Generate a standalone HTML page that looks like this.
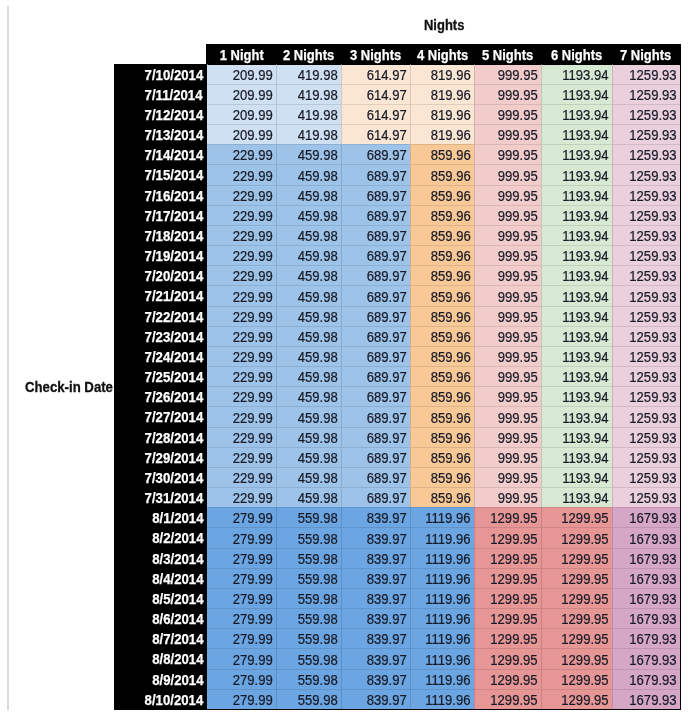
<!DOCTYPE html>
<html><head><meta charset="utf-8"><title>Nights</title>
<style>
html,body{margin:0;padding:0;background:#fff;}
body{width:688px;height:717px;position:relative;overflow:hidden;filter:blur(.45px);font-family:"Liberation Sans",sans-serif;font-size:14px;color:#111;}
div{position:absolute;box-sizing:border-box;white-space:nowrap;}
.k{background:#000;}
.c{-webkit-text-stroke:.22px #171a26;color:#171a26;text-align:right;padding-right:3px;border-top:1px solid rgba(0,0,0,.10);border-left:1px solid rgba(0,0,20,.13);}
.d{-webkit-text-stroke:.25px #fff;color:#fff;font-weight:bold;text-align:right;}
.h{-webkit-text-stroke:.25px #fff;color:#fff;font-weight:bold;text-align:center;}
.b{-webkit-text-stroke:.3px #111;font-weight:bold;color:#111;transform:scaleX(.927);transform-origin:0 50%;}
span{display:inline-block;transform:translateY(.75px) scaleX(.935);transform-origin:100% 50%;}
.h span{transform:scaleX(.927);transform-origin:50% 50%;}
.d span{transform:translateY(.6px) scaleX(.942);}
</style></head><body>
<div style="left:7px;top:6px;width:2px;height:704px;background:#dcdcdc"></div>
<div class="b" style="left:423.8px;top:17px;line-height:16px">Nights</div>
<div class="b" style="left:24.9px;top:379px;line-height:16px;transform:scaleX(.942)">Check-in Date</div>
<div class="k" style="left:206px;top:44px;width:475px;height:666px"></div>
<div class="k" style="left:114px;top:64px;width:93px;height:646px"></div>
<div class="h" style="left:207px;top:45px;width:69.4px;height:20px;line-height:20px"><span>1 Night</span></div>
<div class="h" style="left:276.4px;top:45px;width:65.0px;height:20px;line-height:20px"><span>2 Nights</span></div>
<div class="h" style="left:341.4px;top:45px;width:69.0px;height:20px;line-height:20px"><span>3 Nights</span></div>
<div class="h" style="left:410.4px;top:45px;width:64.1px;height:20px;line-height:20px"><span>4 Nights</span></div>
<div class="h" style="left:474.5px;top:45px;width:66.9px;height:20px;line-height:20px"><span>5 Nights</span></div>
<div class="h" style="left:541.4px;top:45px;width:70.2px;height:20px;line-height:20px"><span>6 Nights</span></div>
<div class="h" style="left:611.6px;top:45px;width:68.4px;height:20px;line-height:20px"><span>7 Nights</span></div>
<div class="d" style="left:114px;top:64px;width:89px;height:20px;line-height:20px"><span>7/10/2014</span></div>
<div class="c" style="left:207px;top:64px;width:69px;height:20px;line-height:19px;background:#CEE0F2;border-top-color:#000;border-left-color:transparent"><span>209.99</span></div>
<div class="c" style="left:276px;top:64px;width:65px;height:20px;line-height:19px;background:#CEE0F2;border-top-color:#000"><span>419.98</span></div>
<div class="c" style="left:341px;top:64px;width:69px;height:20px;line-height:19px;background:#FBE6D4;border-top-color:#000"><span>614.97</span></div>
<div class="c" style="left:410px;top:64px;width:64px;height:20px;line-height:19px;background:#FBE6D4;border-top-color:#000"><span>819.96</span></div>
<div class="c" style="left:474px;top:64px;width:67px;height:20px;line-height:19px;background:#F2CCCB;border-top-color:#000"><span>999.95</span></div>
<div class="c" style="left:541px;top:64px;width:71px;height:20px;line-height:19px;background:#D7E9D3;border-top-color:#000"><span>1193.94</span></div>
<div class="c" style="left:612px;top:64px;width:68px;height:20px;line-height:19px;background:#EACFDD;border-top-color:#000"><span>1259.93</span></div>
<div class="d" style="left:114px;top:84px;width:89px;height:20px;line-height:20px"><span>7/11/2014</span></div>
<div class="c" style="left:207px;top:84px;width:69px;height:20px;line-height:19px;background:#CEE0F2;border-left-color:transparent"><span>209.99</span></div>
<div class="c" style="left:276px;top:84px;width:65px;height:20px;line-height:19px;background:#CEE0F2"><span>419.98</span></div>
<div class="c" style="left:341px;top:84px;width:69px;height:20px;line-height:19px;background:#FBE6D4"><span>614.97</span></div>
<div class="c" style="left:410px;top:84px;width:64px;height:20px;line-height:19px;background:#FBE6D4"><span>819.96</span></div>
<div class="c" style="left:474px;top:84px;width:67px;height:20px;line-height:19px;background:#F2CCCB"><span>999.95</span></div>
<div class="c" style="left:541px;top:84px;width:71px;height:20px;line-height:19px;background:#D7E9D3"><span>1193.94</span></div>
<div class="c" style="left:612px;top:84px;width:68px;height:20px;line-height:19px;background:#EACFDD"><span>1259.93</span></div>
<div class="d" style="left:114px;top:104px;width:89px;height:20px;line-height:20px"><span>7/12/2014</span></div>
<div class="c" style="left:207px;top:104px;width:69px;height:20px;line-height:19px;background:#CEE0F2;border-left-color:transparent"><span>209.99</span></div>
<div class="c" style="left:276px;top:104px;width:65px;height:20px;line-height:19px;background:#CEE0F2"><span>419.98</span></div>
<div class="c" style="left:341px;top:104px;width:69px;height:20px;line-height:19px;background:#FBE6D4"><span>614.97</span></div>
<div class="c" style="left:410px;top:104px;width:64px;height:20px;line-height:19px;background:#FBE6D4"><span>819.96</span></div>
<div class="c" style="left:474px;top:104px;width:67px;height:20px;line-height:19px;background:#F2CCCB"><span>999.95</span></div>
<div class="c" style="left:541px;top:104px;width:71px;height:20px;line-height:19px;background:#D7E9D3"><span>1193.94</span></div>
<div class="c" style="left:612px;top:104px;width:68px;height:20px;line-height:19px;background:#EACFDD"><span>1259.93</span></div>
<div class="d" style="left:114px;top:124px;width:89px;height:20px;line-height:20px"><span>7/13/2014</span></div>
<div class="c" style="left:207px;top:124px;width:69px;height:20px;line-height:19px;background:#CEE0F2;border-left-color:transparent"><span>209.99</span></div>
<div class="c" style="left:276px;top:124px;width:65px;height:20px;line-height:19px;background:#CEE0F2"><span>419.98</span></div>
<div class="c" style="left:341px;top:124px;width:69px;height:20px;line-height:19px;background:#FBE6D4"><span>614.97</span></div>
<div class="c" style="left:410px;top:124px;width:64px;height:20px;line-height:19px;background:#FBE6D4"><span>819.96</span></div>
<div class="c" style="left:474px;top:124px;width:67px;height:20px;line-height:19px;background:#F2CCCB"><span>999.95</span></div>
<div class="c" style="left:541px;top:124px;width:71px;height:20px;line-height:19px;background:#D7E9D3"><span>1193.94</span></div>
<div class="c" style="left:612px;top:124px;width:68px;height:20px;line-height:19px;background:#EACFDD"><span>1259.93</span></div>
<div class="d" style="left:114px;top:144px;width:89px;height:20px;line-height:20px"><span>7/14/2014</span></div>
<div class="c" style="left:207px;top:144px;width:69px;height:20px;line-height:19px;background:#9EC3E9;border-left-color:transparent"><span>229.99</span></div>
<div class="c" style="left:276px;top:144px;width:65px;height:20px;line-height:19px;background:#9EC3E9"><span>459.98</span></div>
<div class="c" style="left:341px;top:144px;width:69px;height:20px;line-height:19px;background:#9EC3E9"><span>689.97</span></div>
<div class="c" style="left:410px;top:144px;width:64px;height:20px;line-height:19px;background:#F9C897"><span>859.96</span></div>
<div class="c" style="left:474px;top:144px;width:67px;height:20px;line-height:19px;background:#F2CCCB"><span>999.95</span></div>
<div class="c" style="left:541px;top:144px;width:71px;height:20px;line-height:19px;background:#D7E9D3"><span>1193.94</span></div>
<div class="c" style="left:612px;top:144px;width:68px;height:20px;line-height:19px;background:#EACFDD"><span>1259.93</span></div>
<div class="d" style="left:114px;top:164px;width:89px;height:21px;line-height:21px"><span>7/15/2014</span></div>
<div class="c" style="left:207px;top:164px;width:69px;height:21px;line-height:20px;background:#9EC3E9;border-left-color:transparent"><span>229.99</span></div>
<div class="c" style="left:276px;top:164px;width:65px;height:21px;line-height:20px;background:#9EC3E9"><span>459.98</span></div>
<div class="c" style="left:341px;top:164px;width:69px;height:21px;line-height:20px;background:#9EC3E9"><span>689.97</span></div>
<div class="c" style="left:410px;top:164px;width:64px;height:21px;line-height:20px;background:#F9C897"><span>859.96</span></div>
<div class="c" style="left:474px;top:164px;width:67px;height:21px;line-height:20px;background:#F2CCCB"><span>999.95</span></div>
<div class="c" style="left:541px;top:164px;width:71px;height:21px;line-height:20px;background:#D7E9D3"><span>1193.94</span></div>
<div class="c" style="left:612px;top:164px;width:68px;height:21px;line-height:20px;background:#EACFDD"><span>1259.93</span></div>
<div class="d" style="left:114px;top:185px;width:89px;height:20px;line-height:20px"><span>7/16/2014</span></div>
<div class="c" style="left:207px;top:185px;width:69px;height:20px;line-height:19px;background:#9EC3E9;border-left-color:transparent"><span>229.99</span></div>
<div class="c" style="left:276px;top:185px;width:65px;height:20px;line-height:19px;background:#9EC3E9"><span>459.98</span></div>
<div class="c" style="left:341px;top:185px;width:69px;height:20px;line-height:19px;background:#9EC3E9"><span>689.97</span></div>
<div class="c" style="left:410px;top:185px;width:64px;height:20px;line-height:19px;background:#F9C897"><span>859.96</span></div>
<div class="c" style="left:474px;top:185px;width:67px;height:20px;line-height:19px;background:#F2CCCB"><span>999.95</span></div>
<div class="c" style="left:541px;top:185px;width:71px;height:20px;line-height:19px;background:#D7E9D3"><span>1193.94</span></div>
<div class="c" style="left:612px;top:185px;width:68px;height:20px;line-height:19px;background:#EACFDD"><span>1259.93</span></div>
<div class="d" style="left:114px;top:205px;width:89px;height:20px;line-height:20px"><span>7/17/2014</span></div>
<div class="c" style="left:207px;top:205px;width:69px;height:20px;line-height:19px;background:#9EC3E9;border-left-color:transparent"><span>229.99</span></div>
<div class="c" style="left:276px;top:205px;width:65px;height:20px;line-height:19px;background:#9EC3E9"><span>459.98</span></div>
<div class="c" style="left:341px;top:205px;width:69px;height:20px;line-height:19px;background:#9EC3E9"><span>689.97</span></div>
<div class="c" style="left:410px;top:205px;width:64px;height:20px;line-height:19px;background:#F9C897"><span>859.96</span></div>
<div class="c" style="left:474px;top:205px;width:67px;height:20px;line-height:19px;background:#F2CCCB"><span>999.95</span></div>
<div class="c" style="left:541px;top:205px;width:71px;height:20px;line-height:19px;background:#D7E9D3"><span>1193.94</span></div>
<div class="c" style="left:612px;top:205px;width:68px;height:20px;line-height:19px;background:#EACFDD"><span>1259.93</span></div>
<div class="d" style="left:114px;top:225px;width:89px;height:20px;line-height:20px"><span>7/18/2014</span></div>
<div class="c" style="left:207px;top:225px;width:69px;height:20px;line-height:19px;background:#9EC3E9;border-left-color:transparent"><span>229.99</span></div>
<div class="c" style="left:276px;top:225px;width:65px;height:20px;line-height:19px;background:#9EC3E9"><span>459.98</span></div>
<div class="c" style="left:341px;top:225px;width:69px;height:20px;line-height:19px;background:#9EC3E9"><span>689.97</span></div>
<div class="c" style="left:410px;top:225px;width:64px;height:20px;line-height:19px;background:#F9C897"><span>859.96</span></div>
<div class="c" style="left:474px;top:225px;width:67px;height:20px;line-height:19px;background:#F2CCCB"><span>999.95</span></div>
<div class="c" style="left:541px;top:225px;width:71px;height:20px;line-height:19px;background:#D7E9D3"><span>1193.94</span></div>
<div class="c" style="left:612px;top:225px;width:68px;height:20px;line-height:19px;background:#EACFDD"><span>1259.93</span></div>
<div class="d" style="left:114px;top:245px;width:89px;height:20px;line-height:20px"><span>7/19/2014</span></div>
<div class="c" style="left:207px;top:245px;width:69px;height:20px;line-height:19px;background:#9EC3E9;border-left-color:transparent"><span>229.99</span></div>
<div class="c" style="left:276px;top:245px;width:65px;height:20px;line-height:19px;background:#9EC3E9"><span>459.98</span></div>
<div class="c" style="left:341px;top:245px;width:69px;height:20px;line-height:19px;background:#9EC3E9"><span>689.97</span></div>
<div class="c" style="left:410px;top:245px;width:64px;height:20px;line-height:19px;background:#F9C897"><span>859.96</span></div>
<div class="c" style="left:474px;top:245px;width:67px;height:20px;line-height:19px;background:#F2CCCB"><span>999.95</span></div>
<div class="c" style="left:541px;top:245px;width:71px;height:20px;line-height:19px;background:#D7E9D3"><span>1193.94</span></div>
<div class="c" style="left:612px;top:245px;width:68px;height:20px;line-height:19px;background:#EACFDD"><span>1259.93</span></div>
<div class="d" style="left:114px;top:265px;width:89px;height:20px;line-height:20px"><span>7/20/2014</span></div>
<div class="c" style="left:207px;top:265px;width:69px;height:20px;line-height:19px;background:#9EC3E9;border-left-color:transparent"><span>229.99</span></div>
<div class="c" style="left:276px;top:265px;width:65px;height:20px;line-height:19px;background:#9EC3E9"><span>459.98</span></div>
<div class="c" style="left:341px;top:265px;width:69px;height:20px;line-height:19px;background:#9EC3E9"><span>689.97</span></div>
<div class="c" style="left:410px;top:265px;width:64px;height:20px;line-height:19px;background:#F9C897"><span>859.96</span></div>
<div class="c" style="left:474px;top:265px;width:67px;height:20px;line-height:19px;background:#F2CCCB"><span>999.95</span></div>
<div class="c" style="left:541px;top:265px;width:71px;height:20px;line-height:19px;background:#D7E9D3"><span>1193.94</span></div>
<div class="c" style="left:612px;top:265px;width:68px;height:20px;line-height:19px;background:#EACFDD"><span>1259.93</span></div>
<div class="d" style="left:114px;top:285px;width:89px;height:21px;line-height:21px"><span>7/21/2014</span></div>
<div class="c" style="left:207px;top:285px;width:69px;height:21px;line-height:20px;background:#9EC3E9;border-left-color:transparent"><span>229.99</span></div>
<div class="c" style="left:276px;top:285px;width:65px;height:21px;line-height:20px;background:#9EC3E9"><span>459.98</span></div>
<div class="c" style="left:341px;top:285px;width:69px;height:21px;line-height:20px;background:#9EC3E9"><span>689.97</span></div>
<div class="c" style="left:410px;top:285px;width:64px;height:21px;line-height:20px;background:#F9C897"><span>859.96</span></div>
<div class="c" style="left:474px;top:285px;width:67px;height:21px;line-height:20px;background:#F2CCCB"><span>999.95</span></div>
<div class="c" style="left:541px;top:285px;width:71px;height:21px;line-height:20px;background:#D7E9D3"><span>1193.94</span></div>
<div class="c" style="left:612px;top:285px;width:68px;height:21px;line-height:20px;background:#EACFDD"><span>1259.93</span></div>
<div class="d" style="left:114px;top:306px;width:89px;height:20px;line-height:20px"><span>7/22/2014</span></div>
<div class="c" style="left:207px;top:306px;width:69px;height:20px;line-height:19px;background:#9EC3E9;border-left-color:transparent"><span>229.99</span></div>
<div class="c" style="left:276px;top:306px;width:65px;height:20px;line-height:19px;background:#9EC3E9"><span>459.98</span></div>
<div class="c" style="left:341px;top:306px;width:69px;height:20px;line-height:19px;background:#9EC3E9"><span>689.97</span></div>
<div class="c" style="left:410px;top:306px;width:64px;height:20px;line-height:19px;background:#F9C897"><span>859.96</span></div>
<div class="c" style="left:474px;top:306px;width:67px;height:20px;line-height:19px;background:#F2CCCB"><span>999.95</span></div>
<div class="c" style="left:541px;top:306px;width:71px;height:20px;line-height:19px;background:#D7E9D3"><span>1193.94</span></div>
<div class="c" style="left:612px;top:306px;width:68px;height:20px;line-height:19px;background:#EACFDD"><span>1259.93</span></div>
<div class="d" style="left:114px;top:326px;width:89px;height:20px;line-height:20px"><span>7/23/2014</span></div>
<div class="c" style="left:207px;top:326px;width:69px;height:20px;line-height:19px;background:#9EC3E9;border-left-color:transparent"><span>229.99</span></div>
<div class="c" style="left:276px;top:326px;width:65px;height:20px;line-height:19px;background:#9EC3E9"><span>459.98</span></div>
<div class="c" style="left:341px;top:326px;width:69px;height:20px;line-height:19px;background:#9EC3E9"><span>689.97</span></div>
<div class="c" style="left:410px;top:326px;width:64px;height:20px;line-height:19px;background:#F9C897"><span>859.96</span></div>
<div class="c" style="left:474px;top:326px;width:67px;height:20px;line-height:19px;background:#F2CCCB"><span>999.95</span></div>
<div class="c" style="left:541px;top:326px;width:71px;height:20px;line-height:19px;background:#D7E9D3"><span>1193.94</span></div>
<div class="c" style="left:612px;top:326px;width:68px;height:20px;line-height:19px;background:#EACFDD"><span>1259.93</span></div>
<div class="d" style="left:114px;top:346px;width:89px;height:20px;line-height:20px"><span>7/24/2014</span></div>
<div class="c" style="left:207px;top:346px;width:69px;height:20px;line-height:19px;background:#9EC3E9;border-left-color:transparent"><span>229.99</span></div>
<div class="c" style="left:276px;top:346px;width:65px;height:20px;line-height:19px;background:#9EC3E9"><span>459.98</span></div>
<div class="c" style="left:341px;top:346px;width:69px;height:20px;line-height:19px;background:#9EC3E9"><span>689.97</span></div>
<div class="c" style="left:410px;top:346px;width:64px;height:20px;line-height:19px;background:#F9C897"><span>859.96</span></div>
<div class="c" style="left:474px;top:346px;width:67px;height:20px;line-height:19px;background:#F2CCCB"><span>999.95</span></div>
<div class="c" style="left:541px;top:346px;width:71px;height:20px;line-height:19px;background:#D7E9D3"><span>1193.94</span></div>
<div class="c" style="left:612px;top:346px;width:68px;height:20px;line-height:19px;background:#EACFDD"><span>1259.93</span></div>
<div class="d" style="left:114px;top:366px;width:89px;height:20px;line-height:20px"><span>7/25/2014</span></div>
<div class="c" style="left:207px;top:366px;width:69px;height:20px;line-height:19px;background:#9EC3E9;border-left-color:transparent"><span>229.99</span></div>
<div class="c" style="left:276px;top:366px;width:65px;height:20px;line-height:19px;background:#9EC3E9"><span>459.98</span></div>
<div class="c" style="left:341px;top:366px;width:69px;height:20px;line-height:19px;background:#9EC3E9"><span>689.97</span></div>
<div class="c" style="left:410px;top:366px;width:64px;height:20px;line-height:19px;background:#F9C897"><span>859.96</span></div>
<div class="c" style="left:474px;top:366px;width:67px;height:20px;line-height:19px;background:#F2CCCB"><span>999.95</span></div>
<div class="c" style="left:541px;top:366px;width:71px;height:20px;line-height:19px;background:#D7E9D3"><span>1193.94</span></div>
<div class="c" style="left:612px;top:366px;width:68px;height:20px;line-height:19px;background:#EACFDD"><span>1259.93</span></div>
<div class="d" style="left:114px;top:386px;width:89px;height:20px;line-height:20px"><span>7/26/2014</span></div>
<div class="c" style="left:207px;top:386px;width:69px;height:20px;line-height:19px;background:#9EC3E9;border-left-color:transparent"><span>229.99</span></div>
<div class="c" style="left:276px;top:386px;width:65px;height:20px;line-height:19px;background:#9EC3E9"><span>459.98</span></div>
<div class="c" style="left:341px;top:386px;width:69px;height:20px;line-height:19px;background:#9EC3E9"><span>689.97</span></div>
<div class="c" style="left:410px;top:386px;width:64px;height:20px;line-height:19px;background:#F9C897"><span>859.96</span></div>
<div class="c" style="left:474px;top:386px;width:67px;height:20px;line-height:19px;background:#F2CCCB"><span>999.95</span></div>
<div class="c" style="left:541px;top:386px;width:71px;height:20px;line-height:19px;background:#D7E9D3"><span>1193.94</span></div>
<div class="c" style="left:612px;top:386px;width:68px;height:20px;line-height:19px;background:#EACFDD"><span>1259.93</span></div>
<div class="d" style="left:114px;top:406px;width:89px;height:21px;line-height:21px"><span>7/27/2014</span></div>
<div class="c" style="left:207px;top:406px;width:69px;height:21px;line-height:20px;background:#9EC3E9;border-left-color:transparent"><span>229.99</span></div>
<div class="c" style="left:276px;top:406px;width:65px;height:21px;line-height:20px;background:#9EC3E9"><span>459.98</span></div>
<div class="c" style="left:341px;top:406px;width:69px;height:21px;line-height:20px;background:#9EC3E9"><span>689.97</span></div>
<div class="c" style="left:410px;top:406px;width:64px;height:21px;line-height:20px;background:#F9C897"><span>859.96</span></div>
<div class="c" style="left:474px;top:406px;width:67px;height:21px;line-height:20px;background:#F2CCCB"><span>999.95</span></div>
<div class="c" style="left:541px;top:406px;width:71px;height:21px;line-height:20px;background:#D7E9D3"><span>1193.94</span></div>
<div class="c" style="left:612px;top:406px;width:68px;height:21px;line-height:20px;background:#EACFDD"><span>1259.93</span></div>
<div class="d" style="left:114px;top:427px;width:89px;height:20px;line-height:20px"><span>7/28/2014</span></div>
<div class="c" style="left:207px;top:427px;width:69px;height:20px;line-height:19px;background:#9EC3E9;border-left-color:transparent"><span>229.99</span></div>
<div class="c" style="left:276px;top:427px;width:65px;height:20px;line-height:19px;background:#9EC3E9"><span>459.98</span></div>
<div class="c" style="left:341px;top:427px;width:69px;height:20px;line-height:19px;background:#9EC3E9"><span>689.97</span></div>
<div class="c" style="left:410px;top:427px;width:64px;height:20px;line-height:19px;background:#F9C897"><span>859.96</span></div>
<div class="c" style="left:474px;top:427px;width:67px;height:20px;line-height:19px;background:#F2CCCB"><span>999.95</span></div>
<div class="c" style="left:541px;top:427px;width:71px;height:20px;line-height:19px;background:#D7E9D3"><span>1193.94</span></div>
<div class="c" style="left:612px;top:427px;width:68px;height:20px;line-height:19px;background:#EACFDD"><span>1259.93</span></div>
<div class="d" style="left:114px;top:447px;width:89px;height:20px;line-height:20px"><span>7/29/2014</span></div>
<div class="c" style="left:207px;top:447px;width:69px;height:20px;line-height:19px;background:#9EC3E9;border-left-color:transparent"><span>229.99</span></div>
<div class="c" style="left:276px;top:447px;width:65px;height:20px;line-height:19px;background:#9EC3E9"><span>459.98</span></div>
<div class="c" style="left:341px;top:447px;width:69px;height:20px;line-height:19px;background:#9EC3E9"><span>689.97</span></div>
<div class="c" style="left:410px;top:447px;width:64px;height:20px;line-height:19px;background:#F9C897"><span>859.96</span></div>
<div class="c" style="left:474px;top:447px;width:67px;height:20px;line-height:19px;background:#F2CCCB"><span>999.95</span></div>
<div class="c" style="left:541px;top:447px;width:71px;height:20px;line-height:19px;background:#D7E9D3"><span>1193.94</span></div>
<div class="c" style="left:612px;top:447px;width:68px;height:20px;line-height:19px;background:#EACFDD"><span>1259.93</span></div>
<div class="d" style="left:114px;top:467px;width:89px;height:20px;line-height:20px"><span>7/30/2014</span></div>
<div class="c" style="left:207px;top:467px;width:69px;height:20px;line-height:19px;background:#9EC3E9;border-left-color:transparent"><span>229.99</span></div>
<div class="c" style="left:276px;top:467px;width:65px;height:20px;line-height:19px;background:#9EC3E9"><span>459.98</span></div>
<div class="c" style="left:341px;top:467px;width:69px;height:20px;line-height:19px;background:#9EC3E9"><span>689.97</span></div>
<div class="c" style="left:410px;top:467px;width:64px;height:20px;line-height:19px;background:#F9C897"><span>859.96</span></div>
<div class="c" style="left:474px;top:467px;width:67px;height:20px;line-height:19px;background:#F2CCCB"><span>999.95</span></div>
<div class="c" style="left:541px;top:467px;width:71px;height:20px;line-height:19px;background:#D7E9D3"><span>1193.94</span></div>
<div class="c" style="left:612px;top:467px;width:68px;height:20px;line-height:19px;background:#EACFDD"><span>1259.93</span></div>
<div class="d" style="left:114px;top:487px;width:89px;height:20px;line-height:20px"><span>7/31/2014</span></div>
<div class="c" style="left:207px;top:487px;width:69px;height:20px;line-height:19px;background:#9EC3E9;border-left-color:transparent"><span>229.99</span></div>
<div class="c" style="left:276px;top:487px;width:65px;height:20px;line-height:19px;background:#9EC3E9"><span>459.98</span></div>
<div class="c" style="left:341px;top:487px;width:69px;height:20px;line-height:19px;background:#9EC3E9"><span>689.97</span></div>
<div class="c" style="left:410px;top:487px;width:64px;height:20px;line-height:19px;background:#F9C897"><span>859.96</span></div>
<div class="c" style="left:474px;top:487px;width:67px;height:20px;line-height:19px;background:#F2CCCB"><span>999.95</span></div>
<div class="c" style="left:541px;top:487px;width:71px;height:20px;line-height:19px;background:#D7E9D3"><span>1193.94</span></div>
<div class="c" style="left:612px;top:487px;width:68px;height:20px;line-height:19px;background:#EACFDD"><span>1259.93</span></div>
<div class="d" style="left:114px;top:507px;width:89px;height:20px;line-height:20px"><span>8/1/2014</span></div>
<div class="c" style="left:207px;top:507px;width:69px;height:20px;line-height:19px;background:#6BA5E2;border-left-color:transparent"><span>279.99</span></div>
<div class="c" style="left:276px;top:507px;width:65px;height:20px;line-height:19px;background:#6BA5E2"><span>559.98</span></div>
<div class="c" style="left:341px;top:507px;width:69px;height:20px;line-height:19px;background:#6BA5E2"><span>839.97</span></div>
<div class="c" style="left:410px;top:507px;width:64px;height:20px;line-height:19px;background:#6BA5E2"><span>1119.96</span></div>
<div class="c" style="left:474px;top:507px;width:67px;height:20px;line-height:19px;background:#E79696"><span>1299.95</span></div>
<div class="c" style="left:541px;top:507px;width:71px;height:20px;line-height:19px;background:#E79696"><span>1299.95</span></div>
<div class="c" style="left:612px;top:507px;width:68px;height:20px;line-height:19px;background:#D5A6C6"><span>1679.93</span></div>
<div class="d" style="left:114px;top:527px;width:89px;height:21px;line-height:21px"><span>8/2/2014</span></div>
<div class="c" style="left:207px;top:527px;width:69px;height:21px;line-height:20px;background:#6BA5E2;border-left-color:transparent"><span>279.99</span></div>
<div class="c" style="left:276px;top:527px;width:65px;height:21px;line-height:20px;background:#6BA5E2"><span>559.98</span></div>
<div class="c" style="left:341px;top:527px;width:69px;height:21px;line-height:20px;background:#6BA5E2"><span>839.97</span></div>
<div class="c" style="left:410px;top:527px;width:64px;height:21px;line-height:20px;background:#6BA5E2"><span>1119.96</span></div>
<div class="c" style="left:474px;top:527px;width:67px;height:21px;line-height:20px;background:#E79696"><span>1299.95</span></div>
<div class="c" style="left:541px;top:527px;width:71px;height:21px;line-height:20px;background:#E79696"><span>1299.95</span></div>
<div class="c" style="left:612px;top:527px;width:68px;height:21px;line-height:20px;background:#D5A6C6"><span>1679.93</span></div>
<div class="d" style="left:114px;top:548px;width:89px;height:20px;line-height:20px"><span>8/3/2014</span></div>
<div class="c" style="left:207px;top:548px;width:69px;height:20px;line-height:19px;background:#6BA5E2;border-left-color:transparent"><span>279.99</span></div>
<div class="c" style="left:276px;top:548px;width:65px;height:20px;line-height:19px;background:#6BA5E2"><span>559.98</span></div>
<div class="c" style="left:341px;top:548px;width:69px;height:20px;line-height:19px;background:#6BA5E2"><span>839.97</span></div>
<div class="c" style="left:410px;top:548px;width:64px;height:20px;line-height:19px;background:#6BA5E2"><span>1119.96</span></div>
<div class="c" style="left:474px;top:548px;width:67px;height:20px;line-height:19px;background:#E79696"><span>1299.95</span></div>
<div class="c" style="left:541px;top:548px;width:71px;height:20px;line-height:19px;background:#E79696"><span>1299.95</span></div>
<div class="c" style="left:612px;top:548px;width:68px;height:20px;line-height:19px;background:#D5A6C6"><span>1679.93</span></div>
<div class="d" style="left:114px;top:568px;width:89px;height:20px;line-height:20px"><span>8/4/2014</span></div>
<div class="c" style="left:207px;top:568px;width:69px;height:20px;line-height:19px;background:#6BA5E2;border-left-color:transparent"><span>279.99</span></div>
<div class="c" style="left:276px;top:568px;width:65px;height:20px;line-height:19px;background:#6BA5E2"><span>559.98</span></div>
<div class="c" style="left:341px;top:568px;width:69px;height:20px;line-height:19px;background:#6BA5E2"><span>839.97</span></div>
<div class="c" style="left:410px;top:568px;width:64px;height:20px;line-height:19px;background:#6BA5E2"><span>1119.96</span></div>
<div class="c" style="left:474px;top:568px;width:67px;height:20px;line-height:19px;background:#E79696"><span>1299.95</span></div>
<div class="c" style="left:541px;top:568px;width:71px;height:20px;line-height:19px;background:#E79696"><span>1299.95</span></div>
<div class="c" style="left:612px;top:568px;width:68px;height:20px;line-height:19px;background:#D5A6C6"><span>1679.93</span></div>
<div class="d" style="left:114px;top:588px;width:89px;height:20px;line-height:20px"><span>8/5/2014</span></div>
<div class="c" style="left:207px;top:588px;width:69px;height:20px;line-height:19px;background:#6BA5E2;border-left-color:transparent"><span>279.99</span></div>
<div class="c" style="left:276px;top:588px;width:65px;height:20px;line-height:19px;background:#6BA5E2"><span>559.98</span></div>
<div class="c" style="left:341px;top:588px;width:69px;height:20px;line-height:19px;background:#6BA5E2"><span>839.97</span></div>
<div class="c" style="left:410px;top:588px;width:64px;height:20px;line-height:19px;background:#6BA5E2"><span>1119.96</span></div>
<div class="c" style="left:474px;top:588px;width:67px;height:20px;line-height:19px;background:#E79696"><span>1299.95</span></div>
<div class="c" style="left:541px;top:588px;width:71px;height:20px;line-height:19px;background:#E79696"><span>1299.95</span></div>
<div class="c" style="left:612px;top:588px;width:68px;height:20px;line-height:19px;background:#D5A6C6"><span>1679.93</span></div>
<div class="d" style="left:114px;top:608px;width:89px;height:20px;line-height:20px"><span>8/6/2014</span></div>
<div class="c" style="left:207px;top:608px;width:69px;height:20px;line-height:19px;background:#6BA5E2;border-left-color:transparent"><span>279.99</span></div>
<div class="c" style="left:276px;top:608px;width:65px;height:20px;line-height:19px;background:#6BA5E2"><span>559.98</span></div>
<div class="c" style="left:341px;top:608px;width:69px;height:20px;line-height:19px;background:#6BA5E2"><span>839.97</span></div>
<div class="c" style="left:410px;top:608px;width:64px;height:20px;line-height:19px;background:#6BA5E2"><span>1119.96</span></div>
<div class="c" style="left:474px;top:608px;width:67px;height:20px;line-height:19px;background:#E79696"><span>1299.95</span></div>
<div class="c" style="left:541px;top:608px;width:71px;height:20px;line-height:19px;background:#E79696"><span>1299.95</span></div>
<div class="c" style="left:612px;top:608px;width:68px;height:20px;line-height:19px;background:#D5A6C6"><span>1679.93</span></div>
<div class="d" style="left:114px;top:628px;width:89px;height:20px;line-height:20px"><span>8/7/2014</span></div>
<div class="c" style="left:207px;top:628px;width:69px;height:20px;line-height:19px;background:#6BA5E2;border-left-color:transparent"><span>279.99</span></div>
<div class="c" style="left:276px;top:628px;width:65px;height:20px;line-height:19px;background:#6BA5E2"><span>559.98</span></div>
<div class="c" style="left:341px;top:628px;width:69px;height:20px;line-height:19px;background:#6BA5E2"><span>839.97</span></div>
<div class="c" style="left:410px;top:628px;width:64px;height:20px;line-height:19px;background:#6BA5E2"><span>1119.96</span></div>
<div class="c" style="left:474px;top:628px;width:67px;height:20px;line-height:19px;background:#E79696"><span>1299.95</span></div>
<div class="c" style="left:541px;top:628px;width:71px;height:20px;line-height:19px;background:#E79696"><span>1299.95</span></div>
<div class="c" style="left:612px;top:628px;width:68px;height:20px;line-height:19px;background:#D5A6C6"><span>1679.93</span></div>
<div class="d" style="left:114px;top:648px;width:89px;height:21px;line-height:21px"><span>8/8/2014</span></div>
<div class="c" style="left:207px;top:648px;width:69px;height:21px;line-height:20px;background:#6BA5E2;border-left-color:transparent"><span>279.99</span></div>
<div class="c" style="left:276px;top:648px;width:65px;height:21px;line-height:20px;background:#6BA5E2"><span>559.98</span></div>
<div class="c" style="left:341px;top:648px;width:69px;height:21px;line-height:20px;background:#6BA5E2"><span>839.97</span></div>
<div class="c" style="left:410px;top:648px;width:64px;height:21px;line-height:20px;background:#6BA5E2"><span>1119.96</span></div>
<div class="c" style="left:474px;top:648px;width:67px;height:21px;line-height:20px;background:#E79696"><span>1299.95</span></div>
<div class="c" style="left:541px;top:648px;width:71px;height:21px;line-height:20px;background:#E79696"><span>1299.95</span></div>
<div class="c" style="left:612px;top:648px;width:68px;height:21px;line-height:20px;background:#D5A6C6"><span>1679.93</span></div>
<div class="d" style="left:114px;top:669px;width:89px;height:20px;line-height:20px"><span>8/9/2014</span></div>
<div class="c" style="left:207px;top:669px;width:69px;height:20px;line-height:19px;background:#6BA5E2;border-left-color:transparent"><span>279.99</span></div>
<div class="c" style="left:276px;top:669px;width:65px;height:20px;line-height:19px;background:#6BA5E2"><span>559.98</span></div>
<div class="c" style="left:341px;top:669px;width:69px;height:20px;line-height:19px;background:#6BA5E2"><span>839.97</span></div>
<div class="c" style="left:410px;top:669px;width:64px;height:20px;line-height:19px;background:#6BA5E2"><span>1119.96</span></div>
<div class="c" style="left:474px;top:669px;width:67px;height:20px;line-height:19px;background:#E79696"><span>1299.95</span></div>
<div class="c" style="left:541px;top:669px;width:71px;height:20px;line-height:19px;background:#E79696"><span>1299.95</span></div>
<div class="c" style="left:612px;top:669px;width:68px;height:20px;line-height:19px;background:#D5A6C6"><span>1679.93</span></div>
<div class="d" style="left:114px;top:689px;width:89px;height:20px;line-height:20px"><span>8/10/2014</span></div>
<div class="c" style="left:207px;top:689px;width:69px;height:20px;line-height:19px;background:#6BA5E2;border-left-color:transparent"><span>279.99</span></div>
<div class="c" style="left:276px;top:689px;width:65px;height:20px;line-height:19px;background:#6BA5E2"><span>559.98</span></div>
<div class="c" style="left:341px;top:689px;width:69px;height:20px;line-height:19px;background:#6BA5E2"><span>839.97</span></div>
<div class="c" style="left:410px;top:689px;width:64px;height:20px;line-height:19px;background:#6BA5E2"><span>1119.96</span></div>
<div class="c" style="left:474px;top:689px;width:67px;height:20px;line-height:19px;background:#E79696"><span>1299.95</span></div>
<div class="c" style="left:541px;top:689px;width:71px;height:20px;line-height:19px;background:#E79696"><span>1299.95</span></div>
<div class="c" style="left:612px;top:689px;width:68px;height:20px;line-height:19px;background:#D5A6C6"><span>1679.93</span></div>
</body></html>
